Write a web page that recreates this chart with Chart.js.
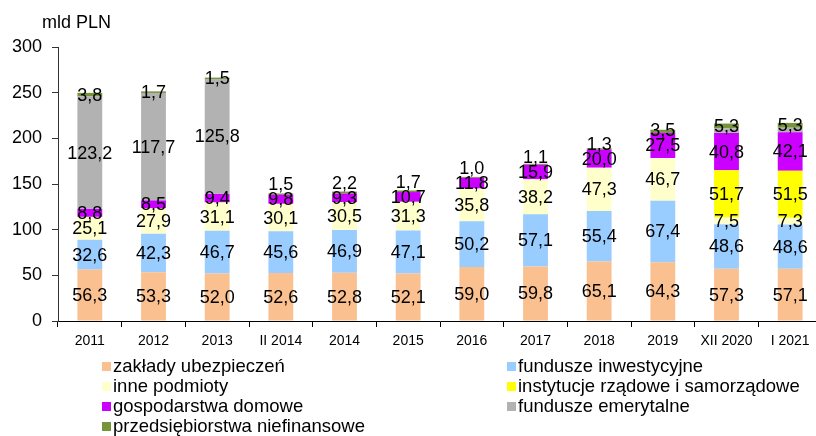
<!DOCTYPE html>
<html>
<head>
<meta charset="utf-8">
<script src="https://cdn.jsdelivr.net/npm/chart.js@4/dist/chart.umd.min.js"></script>
<style>
  html, body { margin:0; padding:0; background:#fff; overflow:hidden; width:816px; height:436px; }
  #wrap { position:relative; width:816px; height:436px; overflow:hidden; }
  canvas { position:absolute; left:0; top:0; }
  .lg { position:absolute; font-family:"Liberation Sans", Arial, sans-serif; font-size:18.5px; color:#000; white-space:nowrap; line-height:20px; }
  .sw { position:absolute; width:9px; height:9px; }
</style>
</head>
<body>
<div id="wrap">
  <canvas id="c" width="840" height="436"></canvas>
</div>
<script>
const categories = ['2011','2012','2013','II 2014','2014','2015','2016','2017','2018','2019','XII 2020','I 2021'];
const zakladyUbezpieczen = [56.3,53.3,52.0,52.6,52.8,52.1,59.0,59.8,65.1,64.3,57.3,57.1];
const funduszeInwestycyjne = [32.6,42.3,46.7,45.6,46.9,47.1,50.2,57.1,55.4,67.4,48.6,48.6];
const innePodmioty = [25.1,27.9,31.1,30.1,30.5,31.3,35.8,38.2,47.3,46.7,7.5,7.3];
const instytucjeRzadowe = [null,null,null,null,null,null,null,null,null,null,51.7,51.5];
const gospodarstwaDomowe = [8.8,8.5,9.4,9.8,9.3,10.7,11.8,15.9,20.0,27.5,40.8,42.1];
const funduszeEmerytalne = [123.2,117.7,125.8,null,null,null,null,null,null,null,5.0,5.0];
const przedsiebiorstwa = [3.8,1.7,1.5,1.5,2.2,1.7,1.0,1.1,1.3,3.5,5.3,5.3];
const yTicks = [0,50,100,150,200,250,300];
const unitLabel = 'mld PLN';

const FONT = '"Liberation Sans", Arial, sans-serif';

const datasets = [
  { label:'zakłady ubezpieczeń', data:zakladyUbezpieczen, backgroundColor:'#FAC090' },
  { label:'fundusze inwestycyjne', data:funduszeInwestycyjne, backgroundColor:'#99CCFF' },
  { label:'inne podmioty', data:innePodmioty, backgroundColor:'#FFFFCC' },
  { label:'instytucje rządowe i samorządowe', data:instytucjeRzadowe, backgroundColor:'#FFFF00' },
  { label:'gospodarstwa domowe', data:gospodarstwaDomowe, backgroundColor:'#CC00FF' },
  { label:'fundusze emerytalne', data:funduszeEmerytalne, backgroundColor:'#B2B2B2', labelMin:10 },
  { label:'przedsiębiorstwa niefinansowe', data:przedsiebiorstwa, backgroundColor:'#77933C', avoidBelow:true }
].map(d => Object.assign({ barPercentage:0.39, categoryPercentage:1.0, borderWidth:0 }, d));

const fmt = v => v.toFixed(1).replace('.', ',');

const labelPlugin = {
  id:'segLabels',
  afterDatasetsDraw(chart) {
    const ctx = chart.ctx;
    ctx.save();
    ctx.font = '18px ' + FONT;
    ctx.fillStyle = '#000';
    ctx.textAlign = 'center';
    ctx.textBaseline = 'middle';
    const lastY = {};
    chart.data.datasets.forEach((ds, i) => {
      const meta = chart.getDatasetMeta(i);
      meta.data.forEach((bar, j) => {
        const v = ds.data[j];
        if (v === null || v === undefined) return;
        if (ds.labelMin && v < ds.labelMin) return;
        let y = (bar.y + bar.base) / 2;
        if (ds.avoidBelow && lastY[j] !== undefined && lastY[j] - y < 15) {
          y = lastY[j] - 15;
        }
        ctx.fillText(fmt(v), bar.x, y + 1);
        lastY[j] = y;
      });
    });
    ctx.restore();
  }
};

const unitPlugin = {
  id:'unit',
  afterDraw(chart) {
    const ctx = chart.ctx;
    ctx.save();
    ctx.font = '18px ' + FONT;
    ctx.fillStyle = '#000';
    ctx.textAlign = 'left';
    ctx.textBaseline = 'middle';
    ctx.fillText(unitLabel, 42, 23);
    ctx.restore();
  }
};

new Chart(document.getElementById('c'), {
  type:'bar',
  data:{ labels:categories, datasets },
  options:{
    responsive:false,
    devicePixelRatio:1,
    animation:false,
    layout:{ padding:{ top:47, right:18, left:0, bottom:0 } },
    plugins:{ legend:{ display:false }, tooltip:{ enabled:false } },
    scales:{
      x:{
        stacked:true,
        grid:{ offset:true, drawOnChartArea:false, drawTicks:true, tickLength:6, color:'#000' },
        border:{ display:true, color:'#000', width:1 },
        ticks:{ font:{ family:FONT, size:14 }, color:'#000', padding:6, maxRotation:0, autoSkip:false },
        afterFit(s){ s.height = 115; }
      },
      y:{
        stacked:true,
        min:0, max:300,
        afterBuildTicks(s){ s.ticks = yTicks.map(v => ({ value:v })); },
        grid:{ drawOnChartArea:false, drawTicks:true, tickLength:6, color:'#333' },
        border:{ display:true, color:'#333', width:1 },
        ticks:{ font:{ family:FONT, size:18 }, color:'#000', padding:10 },
        afterFit(s){ s.width = 58; }
      }
    }
  },
  plugins:[labelPlugin, unitPlugin]
});

// legend (two columns, row-major)
const wrap = document.getElementById('wrap');
const colX = [102, 507];
const rowCenter = [366, 386, 406, 426];
datasets.forEach((d, i) => {
  const col = i % 2, row = Math.floor(i / 2);
  const sw = document.createElement('div');
  sw.className = 'sw';
  sw.style.left = colX[col] + 'px';
  sw.style.top = (rowCenter[row] - 4) + 'px';
  sw.style.background = d.backgroundColor;
  wrap.appendChild(sw);
  const t = document.createElement('div');
  t.className = 'lg';
  t.style.left = (colX[col] + 11) + 'px';
  t.style.top = (rowCenter[row] - 10) + 'px';
  t.textContent = d.label;
  wrap.appendChild(t);
});
</script>
</body>
</html>
